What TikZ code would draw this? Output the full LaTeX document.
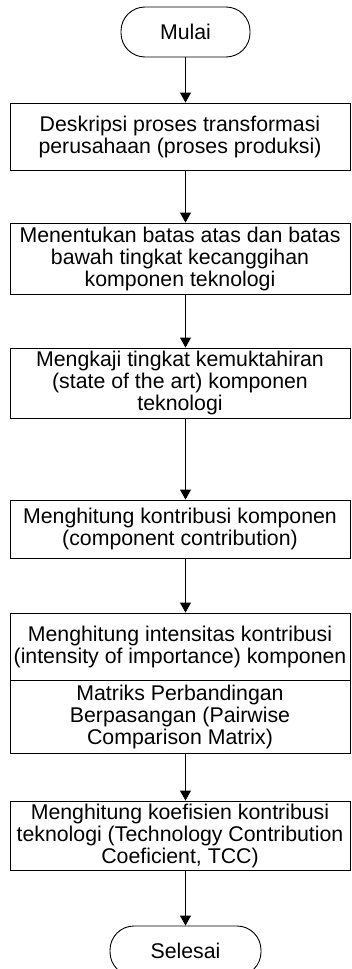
\documentclass[tikz,border=0pt]{standalone}
\usepackage{fontspec}
\setmainfont{Liberation Sans}
\usetikzlibrary{arrows.meta,calc}

\tikzset{
  stepbox/.style={draw=black, line width=0.9pt, minimum width=340pt, inner sep=0pt,
                  align=center, font=\fontsize{21.3}{22}\selectfont},
  term/.style={draw=black, line width=0.9pt, rounded corners=24pt, inner sep=0pt,
               font=\fontsize{21.3}{22}\selectfont},
  flow/.style={draw=black, line width=0.9pt, -{Triangle[length=10pt,width=11pt]}}
}

\begin{document}
\begin{tikzpicture}[x=1pt,y=1pt]
  \clip (0,0) rectangle (352,-969);
  \fill[white] (0,0) rectangle (352,-969);

  % start / end terminals
  \node[term, minimum width=129pt, minimum height=50pt] (mulai) at (185.5,-32) {Mulai};

  % process steps
  \node[stepbox, minimum height=67pt] (b1) at (180,-136.5)
    {Deskripsi proses transformasi\\perusahaan (proses produksi)};
  \node[stepbox, minimum height=71pt] (b2) at (180,-258.5)
    {Menentukan batas atas dan batas\\bawah tingkat kecanggihan\\komponen teknologi};
  \node[stepbox, minimum height=70pt] (b3) at (180,-383)
    {Mengkaji tingkat kemuktahiran\\(state of the art) komponen\\teknologi};
  \node[stepbox, minimum height=58pt] (b4) at (180,-529)
    {Menghitung kontribusi komponen\\(component contribution)};
  \node[stepbox, minimum height=67pt] (b5a) at (180,-646.5)
    {Menghitung intensitas kontribusi\\(intensity of importance) komponen};
  \node[stepbox, minimum height=73pt, anchor=north] (b5b) at (b5a.south)
    {Matriks Perbandingan\\Berpasangan (Pairwise\\Comparison Matrix)};
  \node[stepbox, minimum height=69pt] (b6) at (180,-835.5)
    {Menghitung koefisien kontribusi\\teknologi (Technology Contribution\\Coeficient, TCC)};

  \node[term, minimum width=151pt, minimum height=50pt] (selesai) at (185.5,-951) {Selesai};

  % connectors
  \draw[flow] (mulai.south) -- (mulai.south |- b1.north);
  \draw[flow] (b1.south -| mulai.center) -- (b2.north -| mulai.center);
  \draw[flow] (b2.south -| mulai.center) -- (b3.north -| mulai.center);
  \draw[flow] (b3.south -| mulai.center) -- (b4.north -| mulai.center);
  \draw[flow] (b4.south -| mulai.center) -- (b5a.north -| mulai.center);
  \draw[flow] (b5b.south -| mulai.center) -- (b6.north -| mulai.center);
  \draw[flow] (b6.south -| mulai.center) -- (selesai.north);
\end{tikzpicture}
\end{document}
